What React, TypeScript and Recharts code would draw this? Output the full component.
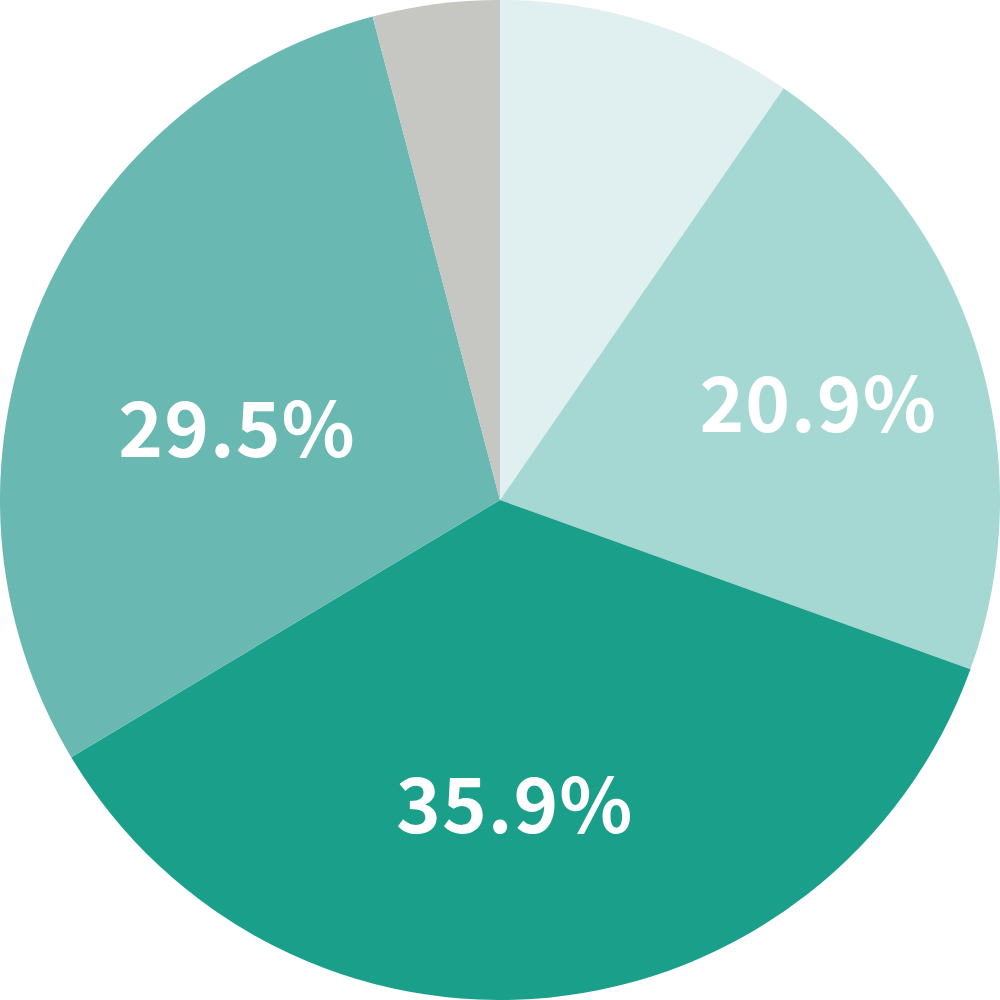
import React from "react";
import { PieChart, Pie, Cell } from "recharts";

const categories = ["A", "B", "C", "D", "E"];
const values = [9.6, 20.9, 35.9, 29.5, 4.1];
const showLabel = [false, true, true, true, false];
const colors = ["#e0efef", "#a5d8d3", "#1a9f8b", "#69b8b2", "#c6c6c2"];

// label placement nudges (radius factor, angle shift in degrees, clockwise)
const labelRadius = [0.6, 0.664, 0.612, 0.544, 0.6];
const labelAngleShift = [0, 1.2, 2.8, -7.3, 0];

const data = categories.map((name, i) => ({ name, value: values[i], show: showLabel[i], idx: i }));

const RADIAN = Math.PI / 180;

const renderLabel = (props: any) => {
  const { cx, cy, midAngle, outerRadius, payload, value } = props;
  if (!payload || !payload.show) return null;
  const i = payload.idx;
  const r = outerRadius * labelRadius[i];
  const a = midAngle - labelAngleShift[i];
  const x = cx + r * Math.cos(-a * RADIAN);
  const y = cy + r * Math.sin(-a * RADIAN) - 6;
  return (
    <text
      x={x}
      y={y}
      fill="#ffffff"
      textAnchor="middle"
      dominantBaseline="central"
      fontFamily='"Noto Sans CJK JP", "Noto Sans", sans-serif'
      fontWeight={700}
      fontSize={76}
      letterSpacing={1}
    >
      {value.toFixed(1)}%
    </text>
  );
};

export default function App() {
  return (
    <div style={{ position: "absolute", left: 0, top: 0, width: 1000, height: 1000, background: "#ffffff" }}>
      <PieChart width={1000} height={1000} margin={{ top: 0, right: 0, bottom: 0, left: 0 }}>
        <Pie
          data={data}
          dataKey="value"
          nameKey="name"
          cx={500}
          cy={500}
          innerRadius={0}
          outerRadius={500}
          startAngle={90}
          endAngle={-270}
          stroke="none"
          label={renderLabel}
          labelLine={false}
          isAnimationActive={false}
        >
          {data.map((d, i) => (
            <Cell key={d.name} fill={colors[i]} />
          ))}
        </Pie>
      </PieChart>
    </div>
  );
}
